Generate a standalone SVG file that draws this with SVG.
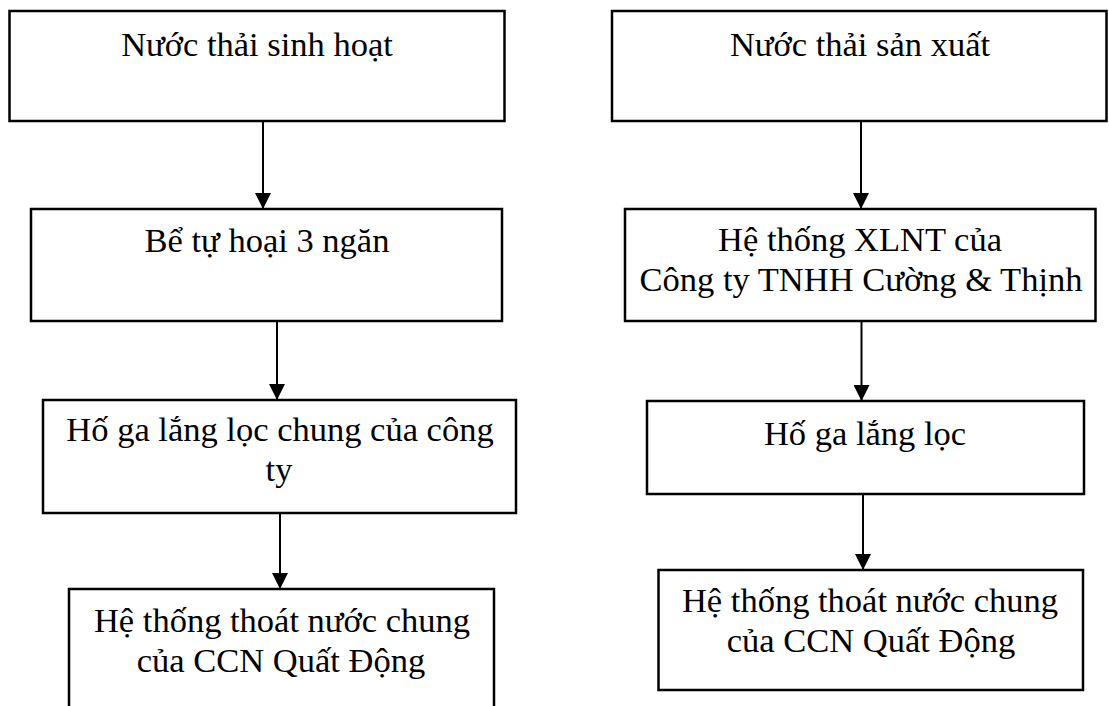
<svg xmlns="http://www.w3.org/2000/svg" width="1109" height="706" viewBox="0 0 1109 706">
  <style>
    .box { fill: #ffffff; stroke: #000000; stroke-width: 2.5; }
    .lbl { font-family: "Liberation Serif", "Times New Roman", serif; font-size: 34.5px; fill: #000000; text-anchor: middle; }
    .edge { stroke: #000000; stroke-width: 2; fill: none; marker-end: url(#head); }
  </style>
  <defs>
    <marker id="head" markerUnits="userSpaceOnUse" markerWidth="16" markerHeight="16" viewBox="0 0 16 16" refX="16" refY="8" orient="auto">
      <path d="M0,0 L16,8 L0,16 Z" fill="#000000"/>
    </marker>
  </defs>
  <rect width="1109" height="706" fill="#ffffff"/>

  <!-- connectors -->
  <g id="connectors">
    <line class="edge" x1="263" y1="121" x2="263" y2="209"/>
    <line class="edge" x1="277" y1="321" x2="277" y2="400"/>
    <line class="edge" x1="280" y1="513" x2="280" y2="589" stroke-width="3"/>
    <line class="edge" x1="861" y1="121" x2="861" y2="209"/>
    <line class="edge" x1="861.5" y1="321" x2="861.5" y2="401"/>
    <line class="edge" x1="863" y1="494" x2="863" y2="570" stroke-width="3"/>
  </g>

  <!-- domestic wastewater branch -->
  <g id="n-sinh-hoat">
    <rect class="box" x="9.5" y="11" width="495" height="110"/>
    <text class="lbl" x="257" y="56">Nước thải sinh hoạt</text>
  </g>
  <g id="n-be-tu-hoai">
    <rect class="box" x="31" y="209" width="471" height="112"/>
    <text class="lbl" x="267" y="252">Bể tự hoại 3 ngăn</text>
  </g>
  <g id="n-ho-ga-chung">
    <rect class="box" x="43" y="400" width="473" height="113"/>
    <text class="lbl" x="280" y="441">Hố ga lắng lọc chung của công</text>
    <text class="lbl" x="279" y="481">ty</text>
  </g>
  <g id="n-thoat-nuoc-1">
    <path class="box" d="M69,706 V589 H494 V706" fill="none"/>
    <text class="lbl" x="282" y="632">Hệ thống thoát nước chung</text>
    <text class="lbl" x="281" y="672">của CCN Quất Động</text>
  </g>

  <!-- production wastewater branch -->
  <g id="n-san-xuat">
    <rect class="box" x="612" y="11" width="494.5" height="110"/>
    <text class="lbl" x="860" y="56">Nước thải sản xuất</text>
  </g>
  <g id="n-xlnt">
    <rect class="box" x="625" y="209" width="470.5" height="112"/>
    <text class="lbl" x="860" y="251">Hệ thống XLNT của</text>
    <text class="lbl" x="861" y="291">Công ty TNHH Cường &amp; Thịnh</text>
  </g>
  <g id="n-ho-ga">
    <rect class="box" x="647" y="401" width="437" height="93"/>
    <text class="lbl" x="865" y="445">Hố ga lắng lọc</text>
  </g>
  <g id="n-thoat-nuoc-2">
    <rect class="box" x="658.5" y="570" width="424.5" height="120"/>
    <text class="lbl" x="870" y="612">Hệ thống thoát nước chung</text>
    <text class="lbl" x="871" y="652">của CCN Quất Động</text>
  </g>
</svg>
